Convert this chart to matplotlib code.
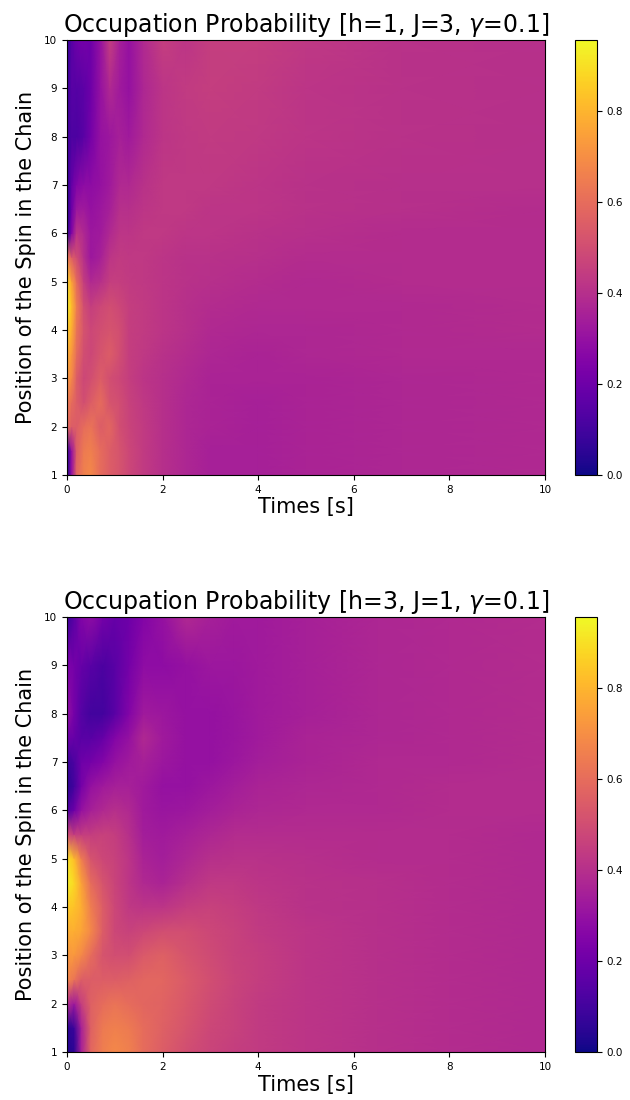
import numpy as np
import matplotlib
matplotlib.use("Agg")
import matplotlib.pyplot as plt

# spin positions along the chain (rows) and sampled times (columns)
positions_a = [1, 1.5, 2, 2.5, 3, 3.5, 4, 4.5, 5, 5.5, 6, 6.5, 7, 8, 9, 10]
times_a = [0, 0.1, 0.2, 0.35, 0.5, 0.7, 0.9, 1.1, 1.3, 1.6, 2, 2.5, 3, 4, 5, 7, 10]

# occupation probability, h=1, J=3, gamma=0.1
prob_a = [
    [0.03, 0.30, 0.58, 0.66, 0.68, 0.60, 0.55, 0.52, 0.48, 0.44, 0.40, 0.37, 0.35, 0.35, 0.36, 0.37, 0.38],
    [0.06, 0.30, 0.55, 0.64, 0.66, 0.60, 0.55, 0.52, 0.48, 0.44, 0.40, 0.37, 0.35, 0.35, 0.36, 0.37, 0.38],
    [0.60, 0.55, 0.55, 0.60, 0.62, 0.55, 0.58, 0.50, 0.47, 0.44, 0.40, 0.37, 0.36, 0.35, 0.36, 0.37, 0.38],
    [0.65, 0.60, 0.55, 0.50, 0.55, 0.60, 0.52, 0.50, 0.46, 0.43, 0.40, 0.37, 0.36, 0.35, 0.36, 0.37, 0.38],
    [0.72, 0.68, 0.55, 0.48, 0.50, 0.55, 0.50, 0.48, 0.45, 0.42, 0.40, 0.38, 0.36, 0.36, 0.36, 0.37, 0.38],
    [0.78, 0.72, 0.60, 0.50, 0.48, 0.52, 0.55, 0.50, 0.45, 0.43, 0.41, 0.39, 0.37, 0.36, 0.37, 0.38, 0.38],
    [0.85, 0.78, 0.62, 0.52, 0.48, 0.50, 0.52, 0.50, 0.45, 0.44, 0.42, 0.40, 0.38, 0.37, 0.37, 0.38, 0.39],
    [0.93, 0.82, 0.65, 0.50, 0.45, 0.48, 0.50, 0.48, 0.45, 0.44, 0.42, 0.40, 0.39, 0.38, 0.38, 0.38, 0.39],
    [0.88, 0.75, 0.60, 0.45, 0.38, 0.40, 0.45, 0.45, 0.44, 0.43, 0.42, 0.41, 0.40, 0.39, 0.38, 0.39, 0.39],
    [0.65, 0.55, 0.50, 0.40, 0.32, 0.35, 0.42, 0.44, 0.43, 0.43, 0.42, 0.41, 0.41, 0.40, 0.39, 0.39, 0.39],
    [0.05, 0.25, 0.42, 0.38, 0.32, 0.33, 0.38, 0.42, 0.42, 0.43, 0.43, 0.42, 0.42, 0.41, 0.40, 0.39, 0.39],
    [0.04, 0.20, 0.32, 0.33, 0.30, 0.32, 0.35, 0.40, 0.40, 0.42, 0.43, 0.43, 0.42, 0.42, 0.41, 0.40, 0.39],
    [0.05, 0.18, 0.25, 0.28, 0.28, 0.30, 0.33, 0.38, 0.38, 0.41, 0.43, 0.43, 0.43, 0.42, 0.41, 0.40, 0.40],
    [0.10, 0.12, 0.12, 0.15, 0.22, 0.30, 0.32, 0.35, 0.33, 0.38, 0.42, 0.43, 0.44, 0.43, 0.42, 0.41, 0.40],
    [0.08, 0.15, 0.14, 0.16, 0.20, 0.30, 0.38, 0.33, 0.30, 0.37, 0.42, 0.44, 0.45, 0.44, 0.42, 0.41, 0.40],
    [0.06, 0.15, 0.20, 0.22, 0.20, 0.30, 0.45, 0.35, 0.30, 0.38, 0.45, 0.42, 0.45, 0.45, 0.43, 0.41, 0.40],
]

positions_b = [1, 1.5, 2, 2.5, 3, 3.5, 4, 4.5, 5, 5.5, 6, 6.5, 7, 7.5, 8, 9, 10]
times_b = [0, 0.15, 0.3, 0.5, 0.75, 1.0, 1.3, 1.6, 2.0, 2.5, 3.0, 3.5, 4.0, 5.0, 6.5, 8, 10]

# occupation probability, h=3, J=1, gamma=0.1
prob_b = [
    [0.03, 0.05, 0.35, 0.58, 0.65, 0.68, 0.66, 0.60, 0.55, 0.50, 0.47, 0.45, 0.44, 0.42, 0.40, 0.39, 0.38],
    [0.05, 0.08, 0.35, 0.56, 0.64, 0.66, 0.64, 0.60, 0.56, 0.52, 0.48, 0.46, 0.44, 0.42, 0.40, 0.39, 0.38],
    [0.40, 0.32, 0.45, 0.56, 0.60, 0.62, 0.60, 0.58, 0.57, 0.53, 0.49, 0.46, 0.44, 0.42, 0.40, 0.39, 0.38],
    [0.68, 0.62, 0.55, 0.55, 0.55, 0.55, 0.56, 0.58, 0.58, 0.54, 0.50, 0.47, 0.45, 0.42, 0.40, 0.39, 0.38],
    [0.72, 0.72, 0.68, 0.60, 0.52, 0.50, 0.50, 0.54, 0.56, 0.52, 0.49, 0.46, 0.45, 0.42, 0.40, 0.39, 0.38],
    [0.78, 0.78, 0.76, 0.68, 0.55, 0.48, 0.46, 0.48, 0.50, 0.50, 0.48, 0.46, 0.44, 0.42, 0.40, 0.39, 0.38],
    [0.85, 0.83, 0.78, 0.65, 0.55, 0.48, 0.43, 0.42, 0.42, 0.45, 0.46, 0.45, 0.43, 0.41, 0.40, 0.39, 0.38],
    [0.93, 0.88, 0.75, 0.60, 0.52, 0.47, 0.42, 0.38, 0.36, 0.40, 0.43, 0.43, 0.42, 0.41, 0.40, 0.39, 0.38],
    [0.90, 0.82, 0.65, 0.52, 0.48, 0.46, 0.42, 0.36, 0.34, 0.37, 0.40, 0.41, 0.41, 0.40, 0.39, 0.39, 0.38],
    [0.50, 0.45, 0.45, 0.45, 0.46, 0.45, 0.40, 0.34, 0.33, 0.35, 0.37, 0.39, 0.39, 0.39, 0.39, 0.39, 0.38],
    [0.12, 0.20, 0.30, 0.35, 0.38, 0.40, 0.38, 0.33, 0.31, 0.32, 0.34, 0.36, 0.37, 0.38, 0.38, 0.39, 0.39],
    [0.05, 0.10, 0.22, 0.30, 0.33, 0.35, 0.35, 0.33, 0.30, 0.30, 0.32, 0.34, 0.36, 0.37, 0.38, 0.39, 0.39],
    [0.08, 0.12, 0.20, 0.22, 0.25, 0.30, 0.33, 0.35, 0.32, 0.30, 0.30, 0.32, 0.34, 0.36, 0.38, 0.38, 0.39],
    [0.20, 0.18, 0.15, 0.15, 0.18, 0.25, 0.30, 0.38, 0.33, 0.30, 0.30, 0.31, 0.33, 0.36, 0.37, 0.38, 0.39],
    [0.30, 0.22, 0.14, 0.10, 0.10, 0.15, 0.25, 0.33, 0.32, 0.30, 0.30, 0.31, 0.33, 0.35, 0.37, 0.38, 0.39],
    [0.24, 0.22, 0.18, 0.15, 0.12, 0.15, 0.22, 0.28, 0.28, 0.30, 0.32, 0.32, 0.33, 0.35, 0.37, 0.38, 0.39],
    [0.08, 0.15, 0.25, 0.28, 0.22, 0.18, 0.20, 0.25, 0.30, 0.38, 0.35, 0.33, 0.33, 0.35, 0.37, 0.38, 0.39],
]

titles = [r"Occupation Probability [h=1, J=3, $\gamma$=0.1]",
          r"Occupation Probability [h=3, J=1, $\gamma$=0.1]"]


def draw(fig, rect, cbar_rect, times, positions, prob, title):
    ax = fig.add_axes(rect)
    cax = fig.add_axes(cbar_rect)
    mesh = ax.pcolormesh(np.array(times), np.array(positions), np.array(prob),
                         shading="gouraud", cmap="plasma", vmin=0, vmax=0.955)
    ax.set_xlim(0, 10)
    ax.set_ylim(1, 10)
    ax.set_xticks(range(0, 11, 2))
    ax.set_yticks(range(1, 11))
    ax.tick_params(labelsize=7.5)
    ax.set_title(title, fontsize=17)
    ax.set_xlabel("Times [s]", fontsize=15, labelpad=2)
    ax.set_ylabel("Position of the Spin in the Chain", fontsize=15, labelpad=6)
    cb = fig.colorbar(mesh, cax=cax)
    cb.set_ticks([0, 0.2, 0.4, 0.6, 0.8])
    cb.ax.tick_params(labelsize=7.5)


def main():
    fig = plt.figure(figsize=(6.3, 11), dpi=100)
    draw(fig, [0.1063, 0.5682, 0.7587, 0.3955], [0.9127, 0.5682, 0.0349, 0.3955],
         times_a, positions_a, prob_a, titles[0])
    draw(fig, [0.1063, 0.0436, 0.7587, 0.3955], [0.9127, 0.0436, 0.0349, 0.3955],
         times_b, positions_b, prob_b, titles[1])
    fig.savefig("out.png", dpi=100)


if __name__ == '__main__':
    main()
